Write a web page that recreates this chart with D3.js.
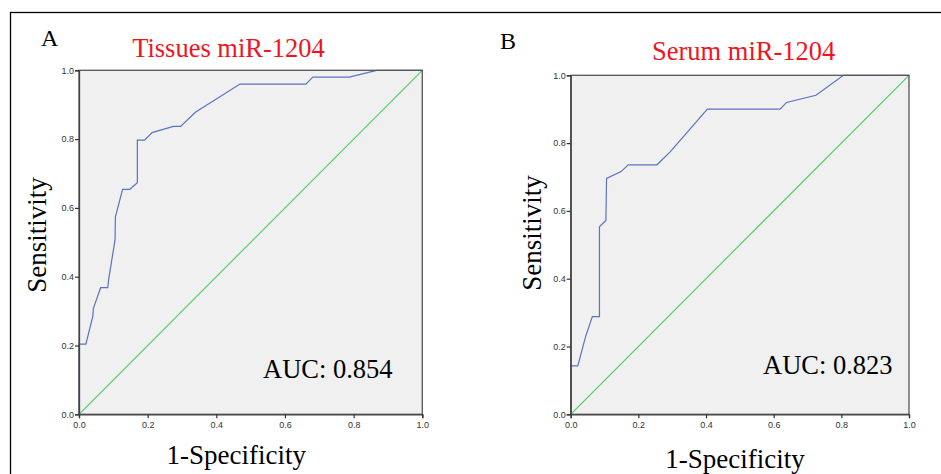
<!DOCTYPE html>
<html>
<head>
<meta charset="utf-8">
<script src="https://cdn.jsdelivr.net/npm/d3@7"></script>
<style>
  html, body { margin: 0; padding: 0; background: #fff; }
  svg { display: block; }
</style>
</head>
<body>
<svg id="chart" width="941" height="474"></svg>
<script>
// ---- data ----
const panelLetters = ["A", "B"];
const panelTitles = ["Tissues miR-1204", "Serum miR-1204"];
const aucLabels = ["AUC: 0.854", "AUC: 0.823"];
const tickValues = [0.0, 0.2, 0.4, 0.6, 0.8, 1.0];
const xAxisTitle = "1-Specificity";
const yAxisTitle = "Sensitivity";

const tissuesFPR = [0, 0, 0.020, 0.040, 0.042, 0.063, 0.084, 0.086, 0.105, 0.106, 0.127, 0.148, 0.170, 0.170, 0.191, 0.213, 0.275, 0.296, 0.339, 0.469, 0.661, 0.681, 0.787, 0.867, 1.0];
const tissuesTPR = [0, 0.204, 0.204, 0.284, 0.308, 0.368, 0.368, 0.390, 0.507, 0.574, 0.654, 0.654, 0.673, 0.797, 0.797, 0.819, 0.837, 0.837, 0.878, 0.960, 0.960, 0.980, 0.980, 1.0, 1.0];

const serumFPR = [0, 0, 0.021, 0.044, 0.064, 0.085, 0.085, 0.104, 0.106, 0.149, 0.170, 0.255, 0.294, 0.404, 0.619, 0.638, 0.725, 0.806, 1.0];
const serumTPR = [0, 0.143, 0.143, 0.229, 0.288, 0.288, 0.553, 0.572, 0.696, 0.716, 0.736, 0.736, 0.774, 0.900, 0.900, 0.920, 0.941, 1.0, 1.0];

const refLine = [0, 1];

// ---- layout ----
const panels = [
  { x0: 79, x1: 422.3, y0: 414.3, y1: 70.3, fpr: tissuesFPR, tpr: tissuesTPR,
    letter: [41, 46], title: [228.5, 57], auc: [327.8, 378], xt: [236.3, 464], yt: [46, 235] },
  { x0: 570.7, x1: 909, y0: 414.3, y1: 75.3, fpr: serumFPR, tpr: serumTPR,
    letter: [500, 48.5], title: [743.7, 60], auc: [827.8, 374], xt: [735, 468], yt: [541, 233] }
];

const svg = d3.select("#chart");

// outer frame
svg.append("rect")
  .attr("x", 10.5).attr("y", 12.5)
  .attr("width", 940).attr("height", 480)
  .attr("fill", "none").attr("stroke", "#000").attr("stroke-width", 1.3);

panels.forEach((p, i) => {
  const x = d3.scaleLinear().domain([0, 1]).range([p.x0, p.x1]);
  const y = d3.scaleLinear().domain([0, 1]).range([p.y0, p.y1]);
  const g = svg.append("g");

  // plot background
  g.append("rect")
    .attr("x", x(0)).attr("y", y(1))
    .attr("width", x(1) - x(0)).attr("height", y(0) - y(1))
    .attr("fill", "#f0f0f0");

  // reference diagonal
  g.append("line")
    .attr("x1", x(refLine[0])).attr("y1", y(refLine[0]))
    .attr("x2", x(refLine[1])).attr("y2", y(refLine[1]))
    .attr("stroke", "#4fc95e").attr("stroke-width", 1.1);

  // ROC curve
  const pts = p.fpr.map((f, k) => [f, p.tpr[k]]);
  g.append("path")
    .datum(pts)
    .attr("d", d3.line().x(d => x(d[0])).y(d => y(d[1])))
    .attr("fill", "none").attr("stroke", "#5b73c2").attr("stroke-width", 1.2);

  // frame
  g.append("rect")
    .attr("x", x(0)).attr("y", y(1))
    .attr("width", x(1) - x(0)).attr("height", y(0) - y(1))
    .attr("fill", "none").attr("stroke", "#555").attr("stroke-width", 1.3);

  // axes
  const fmt = d3.format(".1f");
  const xAxis = g.append("g").attr("transform", `translate(0,${y(0)})`)
    .call(d3.axisBottom(x).tickValues(tickValues).tickFormat(fmt).tickSize(4).tickPadding(3));
  const yAxis = g.append("g").attr("transform", `translate(${x(0)},0)`)
    .call(d3.axisLeft(y).tickValues(tickValues).tickFormat(fmt).tickSize(4).tickPadding(1));
  [xAxis, yAxis].forEach(a => {
    a.select(".domain").attr("stroke", "#444").attr("stroke-width", 1.3);
    a.selectAll(".tick line").attr("stroke", "#333").attr("stroke-width", 1.2);
    a.selectAll(".tick text").attr("fill", "#333")
      .style("font-family", "Liberation Sans, Arial, sans-serif").style("font-size", "9px");
  });

  const serif = "Liberation Serif, Times New Roman, serif";
  // panel letter
  svg.append("text").attr("x", p.letter[0]).attr("y", p.letter[1])
    .text(panelLetters[i]).style("font-family", serif).style("font-size", "24px").attr("fill", "#000");
  // title
  svg.append("text").attr("x", p.title[0]).attr("y", p.title[1])
    .attr("text-anchor", "middle").text(panelTitles[i])
    .style("font-family", serif).style("font-size", "26.5px").attr("fill", "#f0141e");
  // AUC
  svg.append("text").attr("x", p.auc[0]).attr("y", p.auc[1])
    .attr("text-anchor", "middle").text(aucLabels[i])
    .style("font-family", serif).style("font-size", "26.5px").attr("fill", "#000");
  // x title
  svg.append("text").attr("x", p.xt[0]).attr("y", p.xt[1])
    .attr("text-anchor", "middle").text(xAxisTitle)
    .style("font-family", serif).style("font-size", "27px").attr("fill", "#000");
  // y title
  svg.append("text")
    .attr("transform", `translate(${p.yt[0]},${p.yt[1]}) rotate(-90)`)
    .attr("text-anchor", "middle").text(yAxisTitle)
    .style("font-family", serif).style("font-size", "27px").attr("fill", "#000");
});
</script>
</body>
</html>
